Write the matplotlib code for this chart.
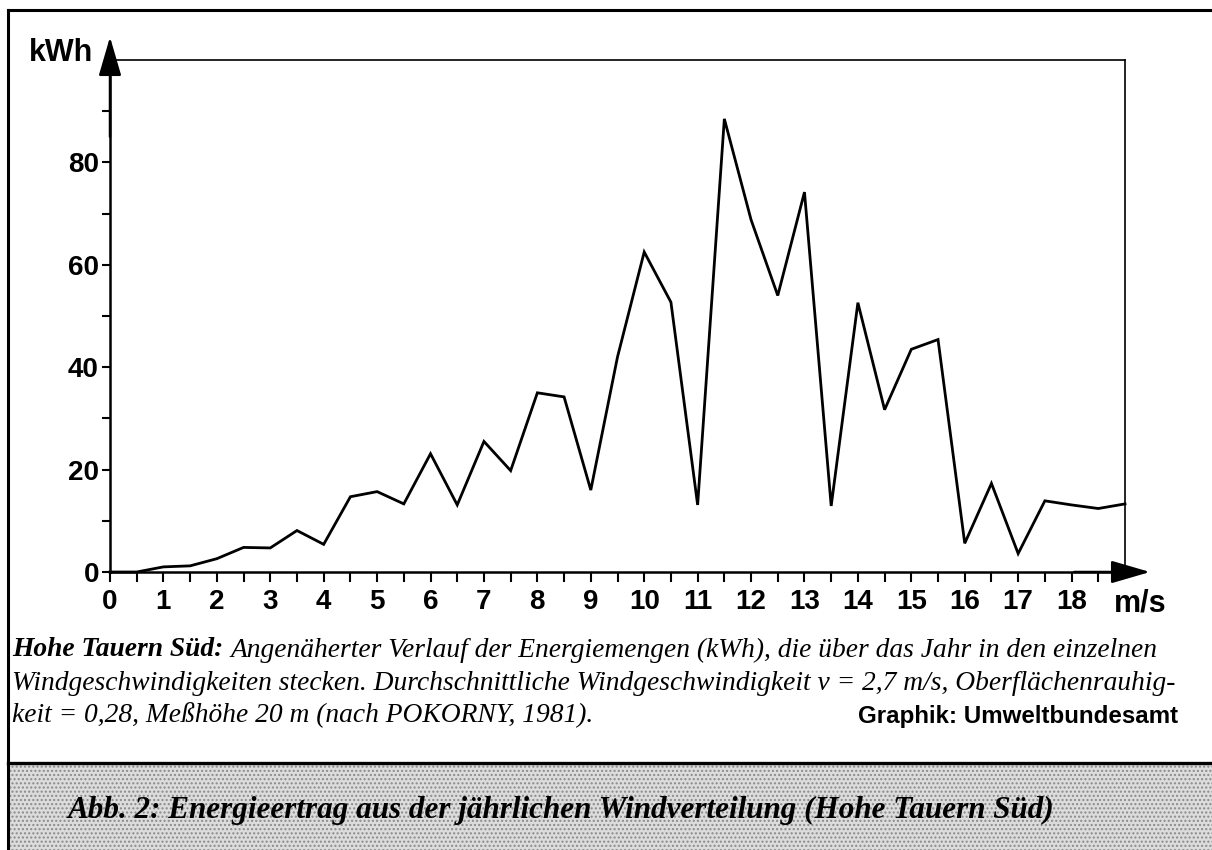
import matplotlib
matplotlib.use("Agg")
import matplotlib.pyplot as plt
from matplotlib.lines import Line2D
from matplotlib.patches import Rectangle

# ---------------- data ----------------
wind_speed = [0, 0.5, 1, 1.5, 2, 2.5, 3, 3.5, 4, 4.5, 5, 5.5, 6, 6.5, 7, 7.5, 8, 8.5,
              9, 9.5, 10, 10.5, 11, 11.5, 12, 12.5, 13, 13.5, 14, 14.5, 15, 15.5,
              16, 16.5, 17, 17.5, 18, 18.5, 19]
energy_kwh = [0.0, 0.0, 1.0, 1.2, 2.6, 4.8, 4.7, 8.1, 5.4, 14.7, 15.7, 13.3, 23.1, 13.1,
              25.5, 19.8, 35.0, 34.2, 16.0, 42.0, 62.5, 52.7, 13.1, 88.5, 68.8, 54.0,
              74.2, 12.9, 52.6, 31.7, 43.5, 45.4, 5.6, 17.3, 3.6, 13.9, 13.1, 12.4, 13.3]

x_major = [0, 1, 2, 3, 4, 5, 6, 7, 8, 9, 10, 11, 12, 13, 14, 15, 16, 17, 18]
x_labels = ["0", "1", "2", "3", "4", "5", "6", "7", "8", "9", "10", "11", "12",
            "13", "14", "15", "16", "17", "18"]
x_minor = [0.5, 1.5, 2.5, 3.5, 4.5, 5.5, 6.5, 7.5, 8.5, 9.5, 10.5, 11.5, 12.5,
           13.5, 14.5, 15.5, 16.5, 17.5, 18.5]
y_major = [0, 20, 40, 60, 80]
y_labels = ["0", "20", "40", "60", "80"]
y_minor = [10, 30, 50, 70, 90]

y_unit = "kWh"
x_unit = "m/s"
caption_bold = "Hohe Tauern Süd:"
caption_line1 = ("Angenäherter Verlauf der Energiemengen (kWh), die über das Jahr "
                 "in den einzelnen")
caption_line2 = ("Windgeschwindigkeiten stecken. Durchschnittliche Windgeschwindigkeit "
                 "v = 2,7 m/s, Oberflächenrauhig-")
caption_line3 = "keit = 0,28, Meßhöhe 20 m (nach POKORNY, 1981)."
credit = "Graphik: Umweltbundesamt"
title = "Abb. 2: Energieertrag aus der jährlichen Windverteilung (Hohe Tauern Süd)"

# ---------------- figure ----------------
W, H = 1212, 850
fig = plt.figure(figsize=(W / 100, H / 100), dpi=100)
fig.patch.set_facecolor("white")

def fx(px):
    return px / W

def fy(py):
    return 1 - py / H

SANS = "Liberation Sans"
SERIF = "Liberation Serif"

ax_l, ax_r, ax_t, ax_b = 110, 1125, 60, 572
ax = fig.add_axes([fx(ax_l), fy(ax_b), (ax_r - ax_l) / W, (ax_b - ax_t) / H])
ax.plot(wind_speed, energy_kwh, color="black", lw=2.0, solid_joinstyle="miter",
        clip_on=False)
ax.set_xlim(0, 19)
ax.set_ylim(0, 100)

ax.spines["left"].set_linewidth(1.8)
ax.spines["bottom"].set_linewidth(1.8)
ax.spines["top"].set_linewidth(1.2)
ax.spines["right"].set_linewidth(1.2)

ax.set_xticks(x_major)
ax.set_xticklabels(x_labels)
ax.set_xticks(x_minor, minor=True)
ax.set_yticks(y_major)
ax.set_yticklabels(y_labels)
ax.set_yticks(y_minor, minor=True)
ax.tick_params(axis="x", which="both", direction="out", length=7, width=1.5, pad=5)
ax.tick_params(axis="y", which="both", direction="out", length=6, width=1.5, pad=2)
for lab in ax.get_xticklabels() + ax.get_yticklabels():
    lab.set_fontfamily(SANS)
    lab.set_fontweight("bold")
    lab.set_fontsize(20)

# axis arrows
arrow_kw = dict(arrowstyle="-|>,head_length=1.2,head_width=0.35", color="black",
                lw=1.8, mutation_scale=20, shrinkA=0, shrinkB=0)
ax.annotate("", xy=(0, 1 + 23 / 512), xycoords="axes fraction",
            xytext=(0, 0.85), textcoords="axes fraction", arrowprops=arrow_kw,
            annotation_clip=False)
ax.annotate("", xy=(1 + 25 / 1015, 0), xycoords="axes fraction",
            xytext=(0.95, 0), textcoords="axes fraction", arrowprops=arrow_kw,
            annotation_clip=False)

fig.text(fx(93), fy(53), y_unit, ha="right", va="center", fontsize=22,
         family=SANS, weight="bold")
fig.text(fx(1140), fy(603), x_unit, ha="center", va="center", fontsize=22,
         family=SANS, weight="bold")

# ---------------- frame ----------------
fig.add_artist(Line2D([fx(8), fx(8)], [fy(10), fy(850)], color="black", lw=2.2,
                      transform=fig.transFigure))
fig.add_artist(Line2D([fx(8), fx(1212)], [fy(10), fy(10)], color="black", lw=2.2,
                      transform=fig.transFigure))

plt.rcParams["hatch.linewidth"] = 1.0
band = Rectangle((fx(8), 0), 1 - fx(8), fy(763), transform=fig.transFigure,
                 facecolor="#dcdcdc", edgecolor="#8a8a8a", hatch="....", lw=0,
                 zorder=0)
fig.add_artist(band)
fig.add_artist(Line2D([fx(8), fx(1212)], [fy(763), fy(763)], color="black", lw=2.4,
                      transform=fig.transFigure))

# ---------------- captions ----------------
fig.canvas.draw()
renderer = fig.canvas.get_renderer()

def width(t):
    return t.get_window_extent(renderer).width

fs0 = 16
t1a = fig.text(fx(12), fy(650), caption_bold, fontsize=fs0, family=SERIF,
               style="italic", weight="bold", va="center")
t1b = fig.text(fx(200), fy(650), caption_line1, fontsize=fs0, family=SERIF,
               style="italic", va="center")
t2 = fig.text(fx(12), fy(683), caption_line2, fontsize=fs0, family=SERIF,
              style="italic", va="center")
t3 = fig.text(fx(12), fy(715), caption_line3, fontsize=fs0, family=SERIF,
              style="italic", va="center")
space = fs0 * 0.25 * 100 / 72
total = width(t1a) + space + width(t1b)
fs = fs0 * (1160 - 12) / total
for t in (t1a, t1b, t2, t3):
    t.set_fontsize(fs)
wa = width(t1a)
t1b.set_x(fx(12 + wa + fs * 0.25 * 100 / 72))

tc = fig.text(fx(1178), fy(717), credit, ha="right", va="center", fontsize=18,
              family=SANS, weight="bold")
tc.set_fontsize(18 * 320 / width(tc))

tt = fig.text(fx(68), fy(810), title, ha="left", va="center", fontsize=20,
              family=SERIF, style="italic", weight="bold")
tt.set_fontsize(20 * 985 / width(tt))

fig.savefig("out.png", dpi=100)
